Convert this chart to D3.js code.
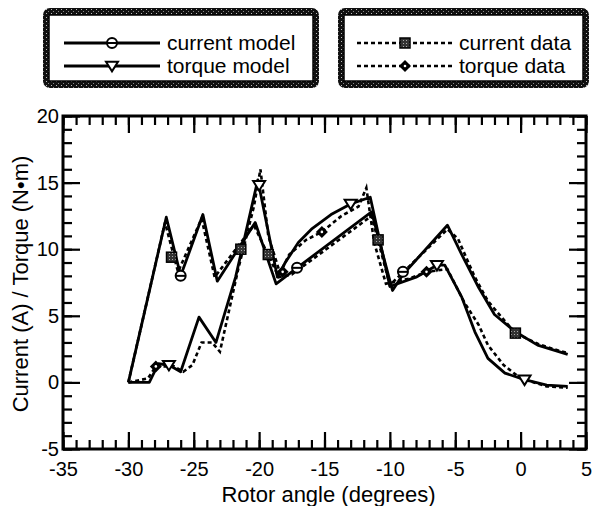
<!DOCTYPE html>
<html lang="en">
<head>
<meta charset="UTF-8">
<title>Current / torque vs rotor angle</title>
<script src="https://d3js.org/d3.v7.min.js"></script>
<style>
  body { margin: 0; background: #fff; }
  svg text { font-family: "Liberation Sans", Arial, Helvetica, sans-serif; fill: #000; }
</style>
</head>
<body>
<div id="chart"></div>
<script>
// values (angle in degrees, value in A or N·m)
const currentModel = [[-30.0,0.0],[-27.1,12.4],[-26.0,8.0],[-24.3,12.6],[-23.2,7.6],[-20.3,12.0],[-18.7,7.4],
  [-17.1,8.6],[-11.4,12.8],[-9.8,6.9],[-9.0,8.1],[-5.6,11.8],[-4.5,9.6],[-3.2,7.1],[-2.0,5.1],[-0.4,3.8],[1.3,2.8],[3.6,2.1]];
const torqueModel = [[-30.0,0.0],[-28.4,0.0],[-27.7,1.4],[-26.9,1.3],[-26.0,0.8],[-24.6,4.9],[-23.3,3.0],[-21.8,7.9],
  [-20.1,15.2],[-18.6,7.9],[-18.0,9.0],[-17.0,10.5],[-16.0,11.5],[-14.5,12.6],[-13.0,13.4],[-11.5,13.9],[-10.0,7.2],
  [-8.0,7.9],[-6.4,8.8],[-5.8,8.8],[-4.5,6.4],[-3.5,3.8],[-2.5,1.8],[-1.2,0.7],[0.3,0.2],[2.0,-0.2],[3.6,-0.3]];
const currentData = [[-30.0,0.0],[-27.2,12.0],[-26.2,8.3],[-24.4,12.3],[-23.4,7.9],[-20.4,11.8],[-18.5,7.9],[-17.5,8.1],
  [-11.4,12.5],[-10.0,7.3],[-5.6,11.5],[-4.8,10.8],[-3.5,7.9],[-2.5,6.1],[-1.2,4.6],[-0.4,3.7],[1.3,2.9],[2.5,2.5],[3.6,2.2]];
const torqueData = [[-30.0,0.0],[-28.5,0.3],[-27.9,1.2],[-26.5,1.2],[-25.8,0.8],[-25.1,1.3],[-24.4,3.0],[-23.6,3.0],
  [-23.0,2.3],[-21.6,8.5],[-20.4,13.2],[-19.9,16.0],[-19.3,11.0],[-18.4,8.2],[-17.7,9.6],[-16.4,10.7],[-15.2,11.3],
  [-13.7,12.5],[-12.4,13.2],[-11.8,14.6],[-11.2,10.5],[-10.3,7.4],[-8.5,7.8],[-7.2,8.3],[-5.6,8.5],[-4.3,6.0],
  [-3.2,4.3],[-2.5,2.8],[-1.3,1.3],[0.0,0.3],[2.0,-0.3],[3.6,-0.4]];

// where the markers sit
const currentModelMarks = [[-26.0,8.0],[-17.1,8.6],[-9.0,8.3]];
const torqueModelMarks = [[-26.9,1.3],[-20.0,14.8],[-13.0,13.4],[-6.4,8.8],[0.3,0.2]];
const currentDataMarks = [[-26.7,9.4],[-21.4,10.0],[-19.3,9.6],[-10.9,10.7],[-0.4,3.7]];
const torqueDataMarks = [[-27.9,1.2],[-18.2,8.3],[-15.2,11.3],[-7.2,8.3]];

const xTicks = [-35, -30, -25, -20, -15, -10, -5, 0, 5];
const yTicks = [-5, 0, 5, 10, 15, 20];
const legendLeft = ["current model", "torque model"];
const legendRight = ["current data", "torque data"];

const W = 594, H = 506;
const plot = {left: 63, right: 586, top: 116, bottom: 449};

const svg = d3.select("#chart").append("svg")
  .attr("width", W).attr("height", H);

// speckled fill for the legend box bevels
const defs = svg.append("defs");
const pat = defs.append("pattern").attr("id", "speckle")
  .attr("width", 5).attr("height", 4).attr("patternUnits", "userSpaceOnUse");
pat.append("rect").attr("width", 5).attr("height", 4).attr("fill", "#111");
pat.append("rect").attr("x", 1).attr("y", 1).attr("width", 1).attr("height", 1).attr("fill", "#bbb");
pat.append("rect").attr("x", 3).attr("y", 3).attr("width", 1).attr("height", 1).attr("fill", "#888");

const sqPat = defs.append("pattern").attr("id", "sqfill")
  .attr("width", 3).attr("height", 3).attr("patternUnits", "userSpaceOnUse");
sqPat.append("rect").attr("width", 3).attr("height", 3).attr("fill", "#333");
sqPat.append("rect").attr("x", 1).attr("y", 1).attr("width", 1).attr("height", 1).attr("fill", "#aaa");

const x = d3.scaleLinear().domain([-35, 5]).range([plot.left, plot.right]);
const y = d3.scaleLinear().domain([-5, 20]).range([plot.bottom, plot.top]);

// ticks: minor every 1, major every 5, all pointing inward
const minorX = d3.range(-35, 5.01, 1), minorY = d3.range(-5, 20.01, 1);
const tickFont = "20px";
const hyphen = d => String(d);   // plain hyphen like the original, not a unicode minus

svg.append("g").attr("transform", `translate(0,${plot.bottom})`)
  .call(d3.axisBottom(x).tickValues(minorX).tickSize(-9).tickFormat(""));
svg.append("g").attr("transform", `translate(0,${plot.bottom})`)
  .call(d3.axisBottom(x).tickValues(xTicks).tickSize(-17).tickPadding(13).tickFormat(hyphen))
  .selectAll("text").style("font-size", tickFont);
svg.append("g").attr("transform", `translate(0,${plot.top})`)
  .call(d3.axisTop(x).tickValues(minorX).tickSize(-9).tickFormat(""));
svg.append("g").attr("transform", `translate(0,${plot.top})`)
  .call(d3.axisTop(x).tickValues(xTicks).tickSize(-17).tickFormat(""));

svg.append("g").attr("transform", `translate(${plot.left},0)`)
  .call(d3.axisLeft(y).tickValues(minorY).tickSize(-9).tickFormat(""));
svg.append("g").attr("transform", `translate(${plot.left},0)`)
  .call(d3.axisLeft(y).tickValues(yTicks).tickSize(-17).tickPadding(4).tickFormat(hyphen))
  .selectAll("text").style("font-size", tickFont);
svg.append("g").attr("transform", `translate(${plot.right},0)`)
  .call(d3.axisRight(y).tickValues(minorY).tickSize(-9).tickFormat(""));
svg.append("g").attr("transform", `translate(${plot.right},0)`)
  .call(d3.axisRight(y).tickValues(yTicks).tickSize(-17).tickFormat(""));

svg.selectAll(".domain").remove();
svg.selectAll(".tick line").attr("stroke", "#000").attr("stroke-width", 2.2);
svg.selectAll(".tick text").style("font-family", "'Liberation Sans', Arial, sans-serif");

svg.append("rect")
  .attr("x", plot.left).attr("y", plot.top)
  .attr("width", plot.right - plot.left).attr("height", plot.bottom - plot.top)
  .attr("fill", "none").attr("stroke", "#000").attr("stroke-width", 3);

// axis titles
svg.append("text")
  .attr("x", (plot.left + plot.right) / 2 + 4).attr("y", 502)
  .attr("text-anchor", "middle").style("font-size", "22px")
  .text("Rotor angle (degrees)");
svg.append("text")
  .attr("transform", "translate(28,284) rotate(-90)")
  .attr("text-anchor", "middle").style("font-size", "22px")
  .text("Current (A) / Torque (N\u2022m)");

// curves
const line = d3.line().x(d => x(d[0])).y(d => y(d[1]));
const g = svg.append("g");

g.append("path").datum(currentData).attr("d", line)
  .attr("fill", "none").attr("stroke", "#000").attr("stroke-width", 2.6).attr("stroke-dasharray", "4,3");
g.append("path").datum(torqueData).attr("d", line)
  .attr("fill", "none").attr("stroke", "#000").attr("stroke-width", 2.6).attr("stroke-dasharray", "4,3");
g.append("path").datum(currentModel).attr("d", line)
  .attr("fill", "none").attr("stroke", "#000").attr("stroke-width", 2.8).attr("stroke-linejoin", "round");
g.append("path").datum(torqueModel).attr("d", line)
  .attr("fill", "none").attr("stroke", "#000").attr("stroke-width", 2.8).attr("stroke-linejoin", "round");

// marker drawers, used in plot and legend
function circleMark(sel, cx, cy) {
  sel.append("circle").attr("cx", cx).attr("cy", cy).attr("r", 5)
    .attr("fill", "#fff").attr("stroke", "#000").attr("stroke-width", 2);
  sel.append("line").attr("x1", cx - 5).attr("x2", cx + 5).attr("y1", cy).attr("y2", cy)
    .attr("stroke", "#000").attr("stroke-width", 2);
}
function triMark(sel, cx, cy) {
  const s = 6;
  sel.append("path").attr("d", `M${cx - s},${cy - s * 0.7}L${cx + s},${cy - s * 0.7}L${cx},${cy + s * 0.9}Z`)
    .attr("fill", "#fff").attr("stroke", "#000").attr("stroke-width", 2);
}
function squareMark(sel, cx, cy) {
  sel.append("rect").attr("x", cx - 5).attr("y", cy - 5).attr("width", 10).attr("height", 10)
    .attr("fill", "url(#sqfill)").attr("stroke", "#000").attr("stroke-width", 1.5);
}
function diamondMark(sel, cx, cy) {
  const s = 6;
  sel.append("path").attr("d", `M${cx},${cy - s}L${cx + s},${cy}L${cx},${cy + s}L${cx - s},${cy}Z`)
    .attr("fill", "#000");
  sel.append("circle").attr("cx", cx).attr("cy", cy).attr("r", 1.3).attr("fill", "#fff");
}

const mg = svg.append("g");
currentDataMarks.forEach(d => squareMark(mg, x(d[0]), y(d[1])));
torqueDataMarks.forEach(d => diamondMark(mg, x(d[0]), y(d[1])));
currentModelMarks.forEach(d => circleMark(mg, x(d[0]), y(d[1])));
torqueModelMarks.forEach(d => triMark(mg, x(d[0]), y(d[1])));

// legend boxes with bevelled dark frame
function legendBox(x0, y0, w, h) {
  const lg = svg.append("g");
  lg.append("rect").attr("x", x0).attr("y", y0).attr("width", w).attr("height", h)
    .attr("rx", 7).attr("fill", "url(#speckle)");
  lg.append("rect").attr("x", x0 + 6).attr("y", y0 + 7).attr("width", w - 12).attr("height", h - 14)
    .attr("fill", "#fff").attr("stroke", "#000").attr("stroke-width", 1.5);
  return lg;
}

const lg1 = legendBox(43, 8, 276, 80);
const lg2 = legendBox(338, 8, 251, 80);
const rowY = [43, 66];
const markers1 = [circleMark, triMark];
const markers2 = [squareMark, diamondMark];

legendLeft.forEach((name, i) => {
  lg1.append("line").attr("x1", 64).attr("x2", 160).attr("y1", rowY[i]).attr("y2", rowY[i])
    .attr("stroke", "#000").attr("stroke-width", 2.8);
  markers1[i](lg1, 112, rowY[i]);
  lg1.append("text").attr("x", 167).attr("y", rowY[i]).attr("dy", "0.35em")
    .style("font-size", "21px").text(name);
});
legendRight.forEach((name, i) => {
  lg2.append("line").attr("x1", 357).attr("x2", 452).attr("y1", rowY[i]).attr("y2", rowY[i])
    .attr("stroke", "#000").attr("stroke-width", 2.6).attr("stroke-dasharray", "4,3");
  markers2[i](lg2, 405, rowY[i]);
  lg2.append("text").attr("x", 459).attr("y", rowY[i]).attr("dy", "0.35em")
    .style("font-size", "21px").text(name);
});
</script>
</body>
</html>
